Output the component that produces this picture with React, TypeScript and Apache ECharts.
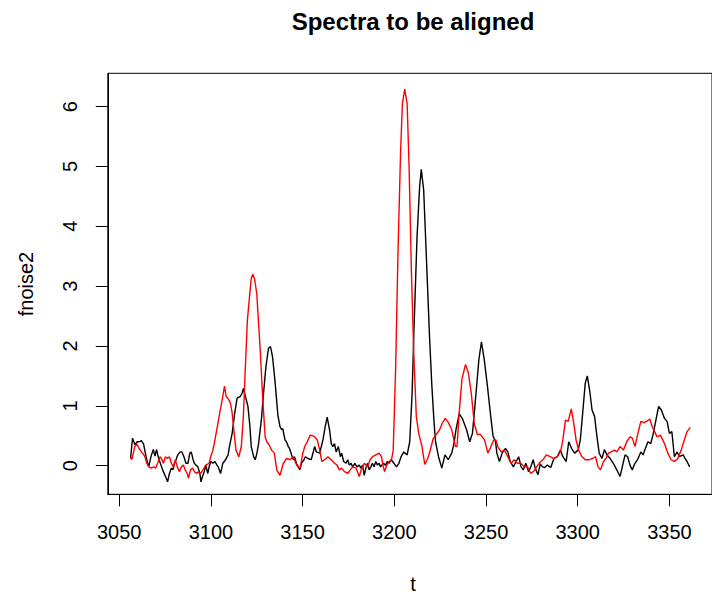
import React, { useEffect, useRef } from "react";
import * as echarts from "echarts";

const titleText = "Spectra to be aligned";
const xName = "t";
const yName = "fnoise2";
const xTicks = [3050, 3100, 3150, 3200, 3250, 3300, 3350];
const yTicks = [0, 1, 2, 3, 4, 5, 6];

// black series (fnoise2): [t, value]
const fnoise2: number[][] = [
  [3056.2,0.12],[3057.3,0.46],[3058.6,0.35],[3059.8,0.40],[3061,0.40],[3062.1,0.42],[3063.3,0.36],[3064.8,0.13],[3066.1,-0.02],[3067.4,0.16],[3068.6,0.27],[3069.5,0.16],[3070.4,0.27],[3071.2,0.16],[3072.2,0.06],[3073.7,-0.07],[3075.1,-0.17],[3076.4,-0.27],[3077.4,-0.13],[3078.5,-0.04],[3079.3,-0.07],[3080.2,0.04],[3081,0.10],[3081.9,0.18],[3083.2,0.23],[3084.2,0.23],[3085.3,0.15],[3086.4,0.04],[3087.5,0.04],[3088.5,0.21],[3089.3,0.23],[3090.3,0.10],[3091,0.04],[3091.8,0.01],[3092.9,-0.02],[3094,-0.13],[3094.6,-0.27],[3095.4,-0.18],[3096.4,-0.10],[3097.2,0.01],[3098.3,-0.13],[3099,-0.02],[3100,0.07],[3101.1,0.04],[3102.2,0.07],[3103.3,0.01],[3104,-0.02],[3105.3,-0.13],[3106.5,0.04],[3108,0.10],[3109.4,0.18],[3110.1,0.32],[3111.6,0.54],[3113,0.88],[3114.3,1.13],[3116.1,1.16],[3117,1.21],[3117.7,1.29],[3118.8,1.16],[3120.2,0.99],[3121.3,0.65],[3122,0.32],[3123.3,0.15],[3124.2,0.10],[3125.1,0.21],[3126,0.37],[3127.5,0.76],[3128.7,1.21],[3130,1.65],[3131.4,1.96],[3132.5,1.99],[3133.6,1.82],[3135,1.40],[3136.5,0.85],[3137.7,0.65],[3138.6,0.60],[3139.2,0.62],[3140.4,0.43],[3141.2,0.40],[3142.2,0.32],[3143,0.28],[3144,0.18],[3145,0.10],[3145.6,0.15],[3146.6,0.04],[3147.6,-0.02],[3148.5,-0.07],[3149.5,0.05],[3150.8,0.10],[3151.5,0.15],[3152.9,0.12],[3154.7,0.10],[3156.6,0.32],[3157.5,0.23],[3159.3,0.21],[3161.1,0.43],[3162.3,0.65],[3163.4,0.81],[3164.7,0.60],[3165.6,0.37],[3166.5,0.32],[3167.4,0.37],[3168.3,0.23],[3169.5,0.32],[3170.6,0.15],[3171.3,0.21],[3172.4,0.07],[3173.7,0.04],[3174.6,0.10],[3175.5,0.01],[3176.4,0.04],[3177.3,-0.02],[3178.5,0.04],[3179.6,-0.02],[3180.9,0.01],[3181.8,-0.04],[3182.7,0.01],[3183.6,-0.16],[3184.5,-0.04],[3185.4,0.04],[3186.3,-0.07],[3187.2,-0.02],[3188.1,0.04],[3189,-0.02],[3189.9,0.07],[3190.8,0.01],[3191.7,0.04],[3192.5,-0.02],[3194,0.04],[3195.2,0.01],[3196.2,0.07],[3197.1,0.04],[3198.3,0.10],[3199.8,0.04],[3201.2,-0.02],[3202.5,0.04],[3203.7,0.15],[3205.2,0.23],[3207,0.18],[3208.4,0.40],[3209.7,1.20],[3210.6,2.16],[3212.4,3.83],[3213.8,4.66],[3214.7,4.95],[3216,4.61],[3217.4,3.55],[3219.2,2.16],[3220.5,1.32],[3221.7,0.71],[3222.5,0.40],[3224.1,0.15],[3225.9,-0.04],[3227.6,0.18],[3229.4,0.10],[3231.3,0.21],[3232.5,0.37],[3233.6,0.60],[3235.4,0.87],[3237.2,0.78],[3239.4,0.60],[3241.1,0.40],[3242.6,0.54],[3244.3,1.12],[3246.1,1.77],[3247.5,2.07],[3249,1.78],[3250.8,1.32],[3252.4,0.87],[3253.8,0.50],[3255.2,0.40],[3255.9,0.21],[3257.3,0.07],[3258.8,0.21],[3260.6,0.29],[3261.9,0.23],[3263.2,0.07],[3264.9,-0.02],[3266.4,0.07],[3267.8,0.15],[3269.1,-0.02],[3270.3,-0.07],[3271.7,0.04],[3273.2,-0.10],[3274.4,-0.02],[3275.7,0.10],[3276.8,-0.04],[3278.3,-0.15],[3279.6,0.03],[3280.8,-0.02],[3282,-0.03],[3283.4,0.01],[3285.3,-0.03],[3287,0.12],[3288.8,0.15],[3290.6,0.26],[3291.9,0.15],[3293.7,0.07],[3295.1,0.40],[3296.6,0.29],[3298.3,0.21],[3300.2,0.26],[3301.4,0.43],[3302.7,0.88],[3304.1,1.38],[3305.2,1.50],[3306.5,1.26],[3307.8,0.93],[3309.2,0.82],[3310.5,0.48],[3311.7,0.21],[3313.2,0.12],[3314.6,0.27],[3315.9,0.18],[3317.7,0.12],[3319.4,0.04],[3321.3,-0.07],[3323.1,-0.18],[3324.3,-0.02],[3325.8,0.18],[3327.2,0.15],[3328.5,0.01],[3329.7,-0.07],[3331.2,0.04],[3332.6,0.10],[3334.4,0.23],[3335.6,0.18],[3336.9,0.29],[3338.3,0.40],[3339.8,0.37],[3341,0.51],[3342.3,0.71],[3344.1,0.99],[3345.6,0.93],[3347.3,0.79],[3348.7,0.74],[3350,0.54],[3351.3,0.57],[3352.7,0.15],[3354.2,0.23],[3355.4,0.15],[3357.5,0.18],[3358.5,0.12],[3359.6,0.07],[3361,-0.02]
];

// red series (reference spectrum): [t, value]
const fnoise1: number[][] = [
  [3056.2,0.15],[3056.9,0.10],[3058.5,0.32],[3059.5,0.37],[3060.6,0.30],[3062.1,0.23],[3063,0.20],[3064,0.15],[3065.1,0.04],[3066.2,-0.02],[3067.5,-0.04],[3068.8,-0.02],[3069.9,-0.04],[3071,0.04],[3072.3,0.15],[3073.4,0.10],[3074.1,0.04],[3075.2,0.15],[3076.3,0.12],[3077.4,0.15],[3078.5,0.04],[3079.5,-0.02],[3080.6,0.10],[3081.7,-0.02],[3082.8,-0.10],[3083.9,-0.02],[3085,0.01],[3086,-0.07],[3087.1,-0.13],[3087.8,-0.21],[3088.9,-0.07],[3090,-0.04],[3091.1,-0.10],[3092.2,-0.13],[3093.2,-0.10],[3094.5,-0.13],[3095.7,-0.07],[3097.2,0.01],[3099,0.04],[3099.9,0.15],[3101.1,0.26],[3102.2,0.43],[3103.5,0.65],[3104.8,0.88],[3105.8,1.04],[3106.5,1.16],[3107.4,1.33],[3108.3,1.16],[3109.8,1.10],[3110.7,1.04],[3111.6,0.88],[3112.7,0.54],[3113.7,0.26],[3115.2,0.15],[3116.6,0.32],[3117.7,0.82],[3118.8,1.65],[3119.9,2.43],[3120.9,2.77],[3122,3.13],[3122.9,3.20],[3123.8,3.12],[3125,2.88],[3126.9,1.93],[3128.3,1.10],[3129.6,0.48],[3130.5,0.40],[3131.7,0.35],[3133.1,0.26],[3134.6,0.21],[3135.9,-0.07],[3137.7,-0.16],[3139.5,0.04],[3141.3,0.12],[3143.1,0.10],[3144.9,0.15],[3146.7,0.01],[3148.7,-0.04],[3150.1,0.21],[3151.2,0.32],[3152.5,0.40],[3154.2,0.51],[3155.5,0.50],[3156.6,0.48],[3158,0.43],[3159.3,0.26],[3160.5,0.07],[3162,0.10],[3163.8,0.15],[3165.6,0.10],[3167.4,0.04],[3168.8,0.01],[3170,-0.07],[3171.3,-0.04],[3172.8,-0.10],[3174.6,-0.13],[3176,-0.07],[3177.3,-0.02],[3179.1,-0.04],[3180.9,-0.18],[3182.2,-0.04],[3183.6,0.04],[3185.4,-0.02],[3186.8,0.10],[3188.1,0.15],[3189.9,0.18],[3191.7,0.21],[3193,0.15],[3194,-0.02],[3194.7,-0.10],[3195.9,0.01],[3197.1,0.07],[3198.5,0.10],[3199.4,0.26],[3200.7,1.60],[3202,3.55],[3203.4,5.22],[3204.4,6.05],[3205.7,6.29],[3207,6.05],[3208.1,4.94],[3209.3,3.27],[3210.6,1.88],[3212,0.82],[3213.3,0.54],[3215.1,0.32],[3216.6,0.02],[3218.2,0.12],[3219.5,0.25],[3221.2,0.45],[3222.8,0.52],[3224.7,0.60],[3226.3,0.72],[3227.8,0.79],[3229.5,0.72],[3231.3,0.60],[3232.5,0.43],[3233.4,0.32],[3234.2,0.32],[3235.4,0.90],[3236.9,1.45],[3238.8,1.69],[3240.3,1.56],[3242,1.20],[3243.6,0.70],[3245.3,0.52],[3247,0.52],[3249.2,0.43],[3251,0.21],[3252.4,0.30],[3254.2,0.43],[3255.4,0.43],[3256.4,0.32],[3258.2,0.23],[3260,0.26],[3261.9,0.15],[3263.6,0.04],[3265.4,0.10],[3267.2,0.04],[3269,0.04],[3270.8,-0.02],[3272.6,-0.02],[3274.4,-0.13],[3276.4,-0.08],[3278,0.00],[3279.8,0.07],[3281.1,0.10],[3282.9,0.18],[3285,0.15],[3287,0.12],[3288.8,0.15],[3290.6,0.23],[3291.9,0.43],[3293.3,0.76],[3294.8,0.74],[3296.5,0.95],[3297.8,0.71],[3299.1,0.43],[3300.5,0.26],[3302.3,0.15],[3304.1,0.10],[3306.3,0.10],[3308.1,0.12],[3309.7,0.15],[3311.1,-0.02],[3312.4,-0.07],[3314.1,0.07],[3315.4,0.12],[3316.7,0.21],[3318.2,0.23],[3320,0.26],[3321.3,0.23],[3323.1,0.32],[3324.9,0.26],[3326.7,0.40],[3328.5,0.48],[3329.8,0.46],[3331.2,0.32],[3332.6,0.51],[3334.4,0.74],[3336.2,0.72],[3338,0.75],[3339.3,0.78],[3340.6,0.65],[3341.9,0.57],[3343.3,0.48],[3345.1,0.51],[3347.3,0.37],[3349.1,0.21],[3350.9,0.10],[3352.7,0.07],[3354.5,0.12],[3356.4,0.26],[3358.1,0.43],[3359.6,0.57],[3361.4,0.64]
];

const FONT = '"Liberation Sans", Arial, Helvetica, sans-serif';

export default function App() {
  const ref = useRef<HTMLDivElement>(null);
  useEffect(() => {
    if (!ref.current) return;
    const chart = echarts.init(ref.current, undefined, { renderer: "svg" });
    chart.setOption({
      animation: false,
      backgroundColor: "#fff",
      textStyle: { fontFamily: FONT },
      grid: {
        left: 107.8,
        top: 73.3,
        width: 610.1,
        height: 421,
        show: true,
        borderColor: "#000",
        borderWidth: 1,
        backgroundColor: "transparent",
        containLabel: false,
      },
      graphic: [
        {
          type: "text",
          x: 413,
          y: 21,
          style: {
            text: titleText,
            font: `bold 24px ${FONT}`,
            fill: "#000",
            align: "center",
            verticalAlign: "middle",
          },
        },
        {
          type: "text",
          x: 413,
          y: 584,
          style: {
            text: xName,
            font: `20px ${FONT}`,
            fill: "#000",
            align: "center",
            verticalAlign: "middle",
          },
        },
        {
          type: "text",
          x: 26,
          y: 284,
          rotation: Math.PI / 2,
          style: {
            text: yName,
            font: `20px ${FONT}`,
            fill: "#000",
            align: "center",
            verticalAlign: "middle",
          },
        },
      ],
      xAxis: {
        type: "value",
        position: "bottom",
        min: 3043.8,
        max: 3373.2,
        splitLine: { show: false },
        axisLine: { show: true, onZero: false, lineStyle: { color: "#000", width: 1 } },
        axisTick: {
          show: true,
          inside: false,
          length: 12,
          customValues: xTicks,
          lineStyle: { color: "#000", width: 1 },
        },
        axisLabel: {
          customValues: xTicks,
          formatter: (v: number) => String(v),
          color: "#000",
          fontSize: 20,
          fontFamily: FONT,
          margin: 28,
        },
      },
      yAxis: {
        type: "value",
        position: "left",
        min: -0.478,
        max: 6.556,
        splitLine: { show: false },
        axisLine: { show: true, onZero: false, lineStyle: { color: "#000", width: 1 } },
        axisTick: {
          show: true,
          inside: false,
          length: 12,
          customValues: yTicks,
          lineStyle: { color: "#000", width: 1 },
        },
        axisLabel: {
          customValues: yTicks,
          formatter: (v: number) => String(v),
          color: "#000",
          fontSize: 20,
          fontFamily: FONT,
          rotate: 90,
          margin: 28,
        },
      },
      series: [
        {
          type: "line",
          data: fnoise2,
          showSymbol: false,
          symbol: "none",
          lineStyle: { color: "#000", width: 1.4 },
          z: 2,
        },
        {
          type: "line",
          data: fnoise1,
          showSymbol: false,
          symbol: "none",
          lineStyle: { color: "#ff0000", width: 1.4 },
          z: 3,
        },
      ],
    });
    return () => chart.dispose();
  }, []);
  return (
    <div
      ref={ref}
      style={{ position: "absolute", left: 0, top: 0, width: 712, height: 595, background: "#fff" }}
    />
  );
}
